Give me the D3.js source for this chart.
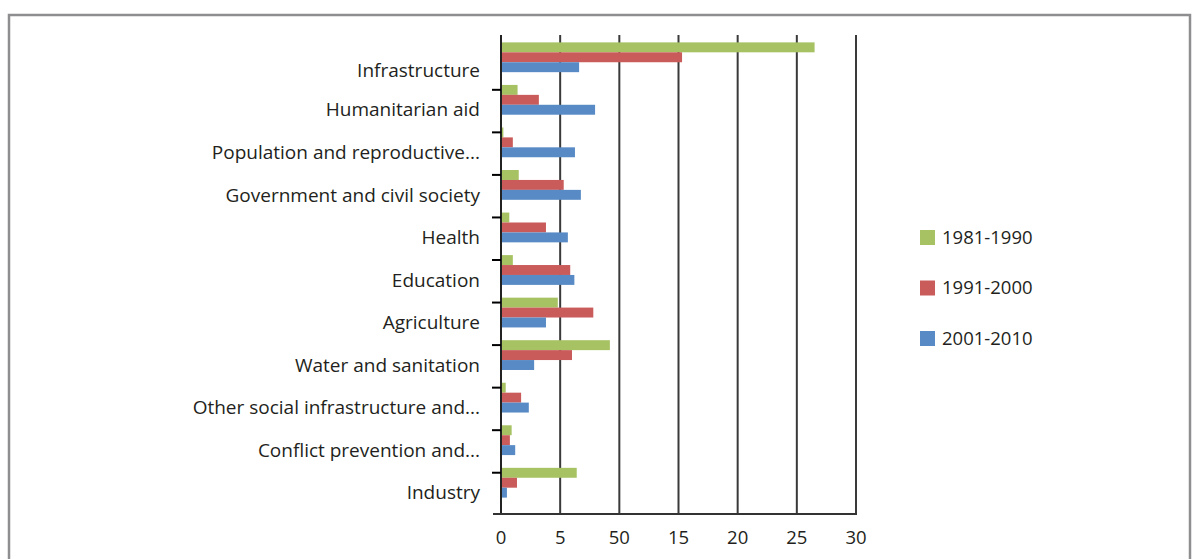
<!DOCTYPE html>
<html>
<head>
<meta charset="utf-8">
<script src="https://cdn.jsdelivr.net/npm/d3@7"></script>
<style>
  html, body { margin: 0; padding: 0; background: #fff; }
  text { font-family: "Open Sans", "Noto Sans", sans-serif; fill: #231f20; }
</style>
</head>
<body>
<div id="chart-container"></div>
<script>
var categories = ['Infrastructure', 'Humanitarian aid', 'Population and reproductive...',
                  'Government and civil society', 'Health', 'Education', 'Agriculture',
                  'Water and sanitation', 'Other social infrastructure and...',
                  'Conflict prevention and...', 'Industry'];
var seriesNames = ['1981-1990', '1991-2000', '2001-2010'];
var values1981 = [26.5, 1.4, 0.2, 1.5, 0.7, 1.0, 4.8, 9.2, 0.4, 0.9, 6.4];
var values1991 = [15.3, 3.2, 1.0, 5.3, 3.8, 5.85, 7.8, 6.0, 1.7, 0.75, 1.35];
var values2001 = [6.6, 7.95, 6.25, 6.75, 5.65, 6.2, 3.8, 2.8, 2.35, 1.2, 0.5];
var tickValues = [0, 5, 10, 15, 20, 25, 30];
var tickLabels = ['0', '5', '50', '15', '20', '25', '30'];
var colors = ['#a6c263', '#c95b5a', '#588ac5'];

var series = [values1981, values1991, values2001];

var width = 1198, height = 559;
var plotTop = 35, plotBottom = 514;

var svg = d3.select('#chart-container')
            .append('svg')
            .attr('width', width)
            .attr('height', height);

// frame
svg.append('path')
   .attr('d', 'M9,' + (height + 5) + ' V15 H1190 V' + (height + 5))
   .attr('fill', 'none')
   .attr('stroke', '#8e8e91')
   .attr('stroke-width', 2.5);

var x = d3.scaleLinear().domain([0, 30]).range([501, 856]);
var y = d3.scaleBand().domain(categories).range([36, 504]).paddingInner(0.3).paddingOuter(0.15);
var ySub = d3.scaleBand().domain([0, 1, 2]).range([0, y.bandwidth()]);

// gridlines
svg.selectAll('line.grid')
   .data(tickValues.slice(1))
   .enter()
   .append('line')
     .attr('class', 'grid')
     .attr('x1', function(d) { return x(d); })
     .attr('x2', function(d) { return x(d); })
     .attr('y1', plotTop)
     .attr('y2', plotBottom)
     .attr('stroke', '#3a3a3a')
     .attr('stroke-width', 2);

// bars
var groups = svg.selectAll('g.cat')
   .data(categories)
   .enter()
   .append('g')
     .attr('class', 'cat')
     .attr('transform', function(d) { return 'translate(0,' + y(d) + ')'; });

groups.selectAll('rect')
   .data(function(d, i) { return series.map(function(s, k) { return {k: k, v: s[i]}; }); })
   .enter()
   .append('rect')
     .attr('x', x(0))
     .attr('y', function(d) { return ySub(d.k); })
     .attr('width', function(d) { return x(d.v) - x(0); })
     .attr('height', ySub.bandwidth())
     .attr('fill', function(d) { return colors[d.k]; });

// left axis line + bottom axis line
svg.append('line')
   .attr('x1', x(0)).attr('x2', x(0))
   .attr('y1', plotTop).attr('y2', plotBottom)
   .attr('stroke', '#222').attr('stroke-width', 2);
svg.append('line')
   .attr('x1', 493).attr('x2', x(30) + 1)
   .attr('y1', plotBottom).attr('y2', plotBottom)
   .attr('stroke', '#333').attr('stroke-width', 2);

// category tick marks (slightly offset, as in the original)
svg.selectAll('line.ytick')
   .data(categories.slice(1))
   .enter()
   .append('line')
     .attr('class', 'ytick')
     .attr('x1', 492).attr('x2', x(0))
     .attr('y1', function(d) { return y(d) + y.bandwidth() / 2 - 10; })
     .attr('y2', function(d) { return y(d) + y.bandwidth() / 2 - 10; })
     .attr('stroke', '#000').attr('stroke-width', 2);

// category labels
svg.selectAll('text.cat')
   .data(categories)
   .enter()
   .append('text')
     .attr('class', 'cat')
     .attr('x', 480)
     .attr('y', function(d, i) { return y(d) + y.bandwidth() / 2 + (i ? 10 : 13); })
     .attr('dy', '0.35em')
     .attr('text-anchor', 'end')
     .style('font-size', '19px')
     .text(function(d) { return d; });

// x tick labels
svg.selectAll('text.xtick')
   .data(tickValues)
   .enter()
   .append('text')
     .attr('class', 'xtick')
     .attr('x', function(d) { return x(d); })
     .attr('y', 538)
     .attr('dy', '0.35em')
     .attr('text-anchor', 'middle')
     .style('font-size', '18.5px')
     .text(function(d, i) { return tickLabels[i]; });

// legend
var legend = svg.selectAll('g.legend')
   .data(seriesNames)
   .enter()
   .append('g')
     .attr('class', 'legend')
     .attr('transform', function(d, i) { return 'translate(920,' + (237.5 + i * 50.5) + ')'; });

legend.append('rect')
   .attr('x', 0).attr('y', -7.5)
   .attr('width', 15).attr('height', 15)
   .attr('fill', function(d, i) { return colors[i]; });

legend.append('text')
   .attr('x', 22).attr('y', 0)
   .attr('dy', '0.35em')
   .style('font-size', '18.5px')
   .text(function(d) { return d; });
</script>
</body>
</html>
